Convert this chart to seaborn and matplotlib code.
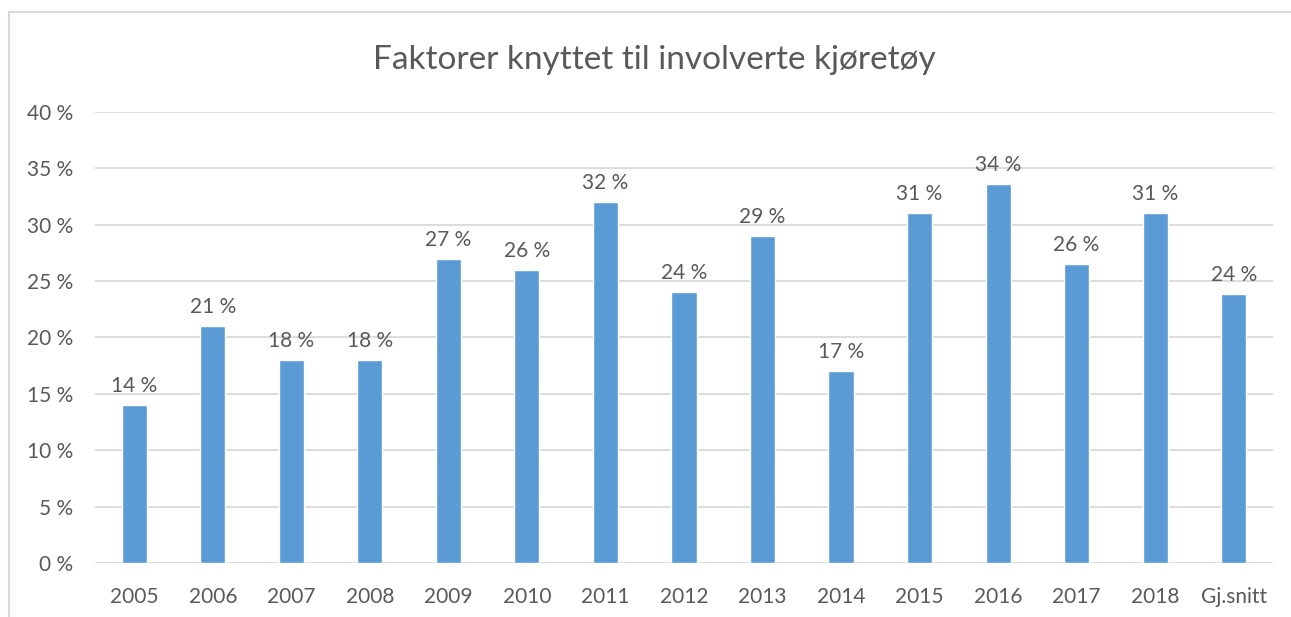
import matplotlib
matplotlib.use("Agg")
import matplotlib.pyplot as plt
import seaborn as sns
import pandas as pd

# Data
categories = ["2005", "2006", "2007", "2008", "2009", "2010", "2011", "2012",
              "2013", "2014", "2015", "2016", "2017", "2018", "Gj.snitt"]
values = [14.0, 21.0, 18.0, 18.0, 27.0, 26.0, 32.0, 24.0,
          29.0, 17.0, 31.0, 33.6, 26.5, 31.0, 23.9]
yticks = [0, 5, 10, 15, 20, 25, 30, 35, 40]

df = pd.DataFrame({"kategori": categories, "andel": values})

sns.set_style("white")
plt.rcParams["font.family"] = ["Lato", "DejaVu Sans"]
grey = "#595959"

fig = plt.figure(figsize=(12.91, 6.17), dpi=100)
ax = fig.add_axes([0.0736, 0.0875, 0.9124, 0.731])

#Bars
sns.barplot(data=df, x="kategori", y="andel", color="#5B9BD5",
            saturation=1, width=0.32, ax=ax)

#Value labels
for i, v in enumerate(values):
    ax.text(i, v + 0.8, f"{round(v):.0f} %", ha="center", va="bottom",
            fontsize=15, color=grey)

#Axes styling
ax.set_ylim(0, 40)
ax.set_yticks(yticks)
ax.set_yticklabels([f"{t} %" for t in yticks])
ax.set_xlim(-0.5, len(categories) - 0.5)
ax.yaxis.grid(True, color="#d9d9d9", lw=1.3)
ax.set_axisbelow(True)
for s in ax.spines.values():
    s.set_visible(False)
ax.tick_params(axis="both", length=0, labelsize=15, labelcolor=grey)
ax.tick_params(axis="y", pad=16)
ax.tick_params(axis="x", pad=17)
ax.set_xlabel(None)
ax.set_ylabel(None)

#Title
fig.text(0.507, 0.903, "Faktorer knyttet til involverte kjøretøy",
         ha="center", va="center", fontsize=24, color=grey)

#Chart frame
fig.patches.append(plt.Rectangle((9 / 1291, -0.05), 1.2, 1 - 12 / 617 + 0.05,
                                 transform=fig.transFigure, fill=False,
                                 edgecolor="#d9d9d9", lw=1.5))

fig.savefig("out.png", dpi=100)
